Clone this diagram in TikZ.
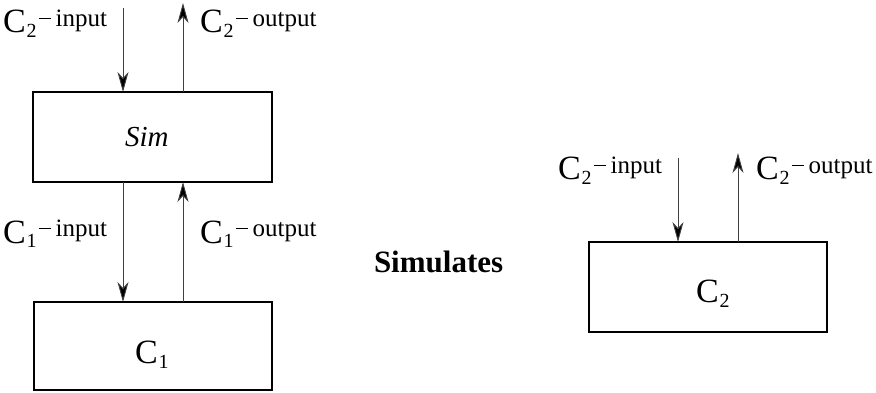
\documentclass[tikz,border=0pt]{standalone}
\usepackage{fontspec}
\setmainfont{Liberation Serif}
\usetikzlibrary{arrows.meta}
\newcommand{\clab}[2]{{\fontsize{34}{34}\selectfont C}\hspace{1pt}\raisebox{-5pt}{\fontsize{20}{20}\selectfont #1}\hspace{2pt}\rule[14pt]{12pt}{1.3pt}\hspace{5pt}\raisebox{6pt}{\fontsize{25}{25}\selectfont #2}}
\newcommand{\cbox}[1]{{\fontsize{34}{34}\selectfont C}\hspace{1pt}\raisebox{-5pt}{\fontsize{20}{20}\selectfont #1}}
\begin{document}
\begin{tikzpicture}[x=1pt,y=-1pt,
  boxst/.style={draw,line width=1.2pt,inner sep=0pt,outer sep=0pt},
  lab/.style={inner sep=0pt,outer sep=0pt,anchor=base west},
  arr/.style={line width=0.9pt,draw=black!75,-{Stealth[length=20pt,width=11pt,inset=6pt,fill=black]}}]
\useasboundingbox (0,0) rectangle (876,393);
% boxes
\node[boxst,minimum width=239pt,minimum height=90pt] (sim) at (152.5,137) {};
\node[boxst,minimum width=238pt,minimum height=88pt] (c1) at (153,346) {};
\node[boxst,minimum width=238pt,minimum height=90pt] (c2) at (708,287) {};
% box texts
\node[lab] (simt) at (125,147) {\fontsize{29}{29}\selectfont\itshape Sim};
\node[lab] (c1t) at (135,363) {\cbox{1}};
\node[lab] (c2t) at (696,302) {\cbox{2}};
\node[lab] (simul) at (374,272) {\fontsize{31}{31}\selectfont\bfseries Simulates};
% labels
\node[lab] (l2i) at (3,33) {\clab{2}{input}};
\node[lab] (l2o) at (200,33) {\clab{2}{output}};
\node[lab] (l1i) at (3,243) {\clab{1}{input}};
\node[lab] (l1o) at (200,243) {\clab{1}{output}};
\node[lab] (r2i) at (558,180) {\clab{2}{input}};
\node[lab] (r2o) at (756,180) {\clab{2}{output}};
% free ends
\coordinate (in2) at (123,8);
\coordinate (out2) at (183,3);
\coordinate (rin) at (678,158);
\coordinate (rout) at (738,153);
% connectors
\draw[arr] (in2) -- (in2 |- sim.north);
\draw[arr] (out2 |- sim.north) -- (out2);
\draw[arr] (in2 |- sim.south) -- (in2 |- c1.north);
\draw[arr] (out2 |- c1.north) -- (out2 |- sim.south);
\draw[arr] (rin) -- (rin |- c2.north);
\draw[arr] (rout |- c2.north) -- (rout);
\end{tikzpicture}
\end{document}
